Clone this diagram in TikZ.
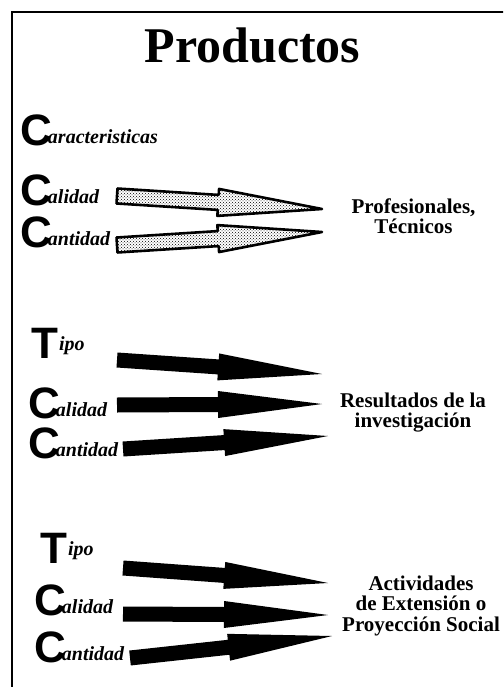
\documentclass[tikz,border=0pt]{standalone}
\usepackage{fontspec}
\setmainfont{Liberation Serif}
\newfontfamily\capfont{Liberation Sans}
\usetikzlibrary{calc,patterns,positioning}

% letra grande + resto del texto en cursiva
\newcommand{\inicial}[3][2pt]{{\capfont\bfseries\fontsize{44}{44}\selectfont #2}\hspace{-4pt}\raisebox{#1}{\bfseries\itshape\fontsize{20}{20}\selectfont #3}}

% flecha de bloque: cola, punta, estilo
\newcommand{\flecha}[3]{%
	\coordinate (hb) at ($(#2)!104pt!(#1)$);
	\path[#3] ($(#1)!7.5pt!90:(#2)$) -- ($(hb)!7.5pt!-90:(#1)$) -- ($(hb)!13.5pt!-90:(#1)$) -- (#2)
		-- ($(hb)!13.5pt!90:(#1)$) -- ($(hb)!7.5pt!90:(#1)$) -- ($(#1)!7.5pt!-90:(#2)$) -- cycle;}

\begin{document}
\begin{tikzpicture}[x=1pt,y=-1pt]
		
		\tikzstyle{cat} = [anchor=base west, inner sep=0pt]
		\tikzstyle{dest} = [anchor=north, inner sep=0pt, align=center, font=\bfseries\fontsize{21}{20.5}\selectfont]
		\tikzstyle{hueca} = [draw, line width=2.6pt, line join=round, pattern=crosshatch dots]
		\tikzstyle{llena} = [fill=black]
		
		\clip (0,0) rectangle (503,687);
		\draw[line width=2.5pt] (12,12) rectangle (520,700);
		
		\node [anchor=base, inner sep=0pt, font=\bfseries\fontsize{50}{50}\selectfont] (titulo) at (252.5,63) {Productos};
		
		% Profesionales
		\node [cat] (car1) at (20,146) {\inicial{C}{aracteristicas}};
		\node [cat] (cal1) at (20,205) {\inicial{C}{alidad}};
		\node [cat] (can1) at (20,247) {\inicial{C}{antidad}};
		\node [dest] (prof) at (413.5,198.5) {Profesionales,\\Técnicos};
		
		% Investigacion
		\node [cat] (tipo2) at (31,358) {\inicial[8pt]{T}{\hspace{5pt}ipo}};
		\node [cat] (cal2) at (28,418) {\inicial{C}{alidad}};
		\node [cat] (can2) at (28,458) {\inicial{C}{antidad}};
		\node [dest] (result) at (413,392.5) {Resultados de la\\investigación};
		
		% Extension
		\node [cat] (tipo3) at (40,563) {\inicial[8pt]{T}{\hspace{5pt}ipo}};
		\node [cat] (cal3) at (34,615) {\inicial{C}{alidad}};
		\node [cat] (can3) at (34,662) {\inicial{C}{antidad}};
		\node [dest] (activ) at (421,575.5) {Actividades\\de Extensión o\\Proyección Social};
		
		\coordinate (c11) at (117,196); \coordinate (p11) at (322,209);
		\coordinate (c12) at (117,245); \coordinate (p12) at (322,232);
		\coordinate (c21) at (117,360); \coordinate (p21) at (322,374);
		\coordinate (c22) at (117,405); \coordinate (p22) at (322,404);
		\coordinate (c23) at (123,449); \coordinate (p23) at (328,436);
		\coordinate (c31) at (123,568); \coordinate (p31) at (328,583);
		\coordinate (c32) at (123,614); \coordinate (p32) at (328,615);
		\coordinate (c33) at (130,658); \coordinate (p33) at (332,636);
		
		\flecha{c11}{p11}{hueca}
		\flecha{c12}{p12}{hueca}
		\flecha{c21}{p21}{llena}
		\flecha{c22}{p22}{llena}
		\flecha{c23}{p23}{llena}
		\flecha{c31}{p31}{llena}
		\flecha{c32}{p32}{llena}
		\flecha{c33}{p33}{llena}
		
\end{tikzpicture}
\end{document}
